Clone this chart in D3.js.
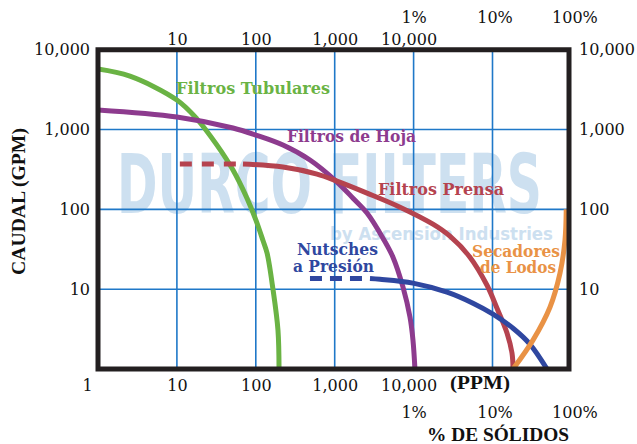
<!DOCTYPE html>
<html><head><meta charset="utf-8">
<script src="https://cdn.jsdelivr.net/npm/d3@7"></script>
<style>body{margin:0;background:#fff}svg{display:block}</style>
</head><body><svg id="c" width="637" height="444"></svg>
<script>
// ---- data ----
const ppmTicks = [1, 10, 100, 1000, 10000];
const ppmLabels = ["1", "10", "100", "1,000", "10,000"];
const ppmTopTicks = [10, 100, 1000, 10000];
const ppmTopLabels = ["10", "100", "1,000", "10,000"];
const pctTicks = [10000, 100000, 1000000];
const pctLabels = ["1%", "10%", "100%"];
const gpmTicks = [10, 100, 1000, 10000];
const gpmLabels = ["10", "100", "1,000", "10,000"];
const gridX = [10, 100, 1000, 10000, 100000];
const gridY = [10, 100, 1000];

const tubulares = [[1,5740],[2.54,4660],[10,2345],[18,1354],[32.2,638],[51.4,311],[77.3,138],[100.6,73],[123,41],[139,28.3],[165,10],[191,3.06],[197,1]];
const hoja = [[1,1760],[10,1436],[51.4,1045],[100,853],[221,639],[486,415],[1070,220],[1706,138],[2567,90],[4090,43.6],[5480,25.2],[7340,10.6],[9000,4.46],[9820,2.3],[10400,1]];
const prensaDash = [[10.9,370],[68.8,370]];
const prensa = [[68.8,370],[221,339],[597,277],[1070,226],[2567,160],[6730,106.6],[17600,65.3],[28900,46.2],[51800,25.2],[85200,11.2],[114000,5.78],[153000,2.81],[176700,1.58],[182000,1]];
const nutschesDash = [[486,13.6],[2800,13.6]];
const nutsches = [[2800,13.6],[3750,13.3],[9820,11.9],[26500,9.17],[56600,6.67],[101500,4.86],[182000,3.24],[299000,2.04],[491000,1]];
const secadores = [[182000,1],[326000,2.3],[535000,5.94],[717000,15.9],[829000,41],[860000,100]];

// ---- styles ----
const C = {green:"#6ab344", purple:"#8d3b8e", red:"#b5434f", blue:"#2f47a0", orange:"#e99245", grid:"#1f78c8", frame:"#231f20", wm:"#cde0f0"};
const numFont = "'DejaVu Serif', serif";
const lblFont = "'DejaVu Serif', serif";
const titleFont = "'Liberation Serif', 'DejaVu Serif', serif";

const svg = d3.select("#c");
const x = d3.scaleLog().domain([1, 1e6]).range([98, 571.4]);
const y = d3.scaleLog().domain([1, 1e4]).range([369, 49.75]);
const [x0, x1] = [x(1), 569];
const [y0, y1] = [y(1e4), y(1)];

// watermark
svg.append("text").attr("x", 117).attr("y", 213)
  .attr("font-family", "'DejaVu Sans Condensed','DejaVu Sans',sans-serif").attr("font-weight", "bold")
  .attr("font-size", 82).attr("fill", C.wm).attr("textLength", 425).attr("lengthAdjust", "spacingAndGlyphs")
  .text("DURCO FILTERS");
svg.append("text").attr("x", 330).attr("y", 240)
  .attr("font-family", "'DejaVu Sans',sans-serif").attr("font-weight", "bold")
  .attr("font-size", 18).attr("fill", C.wm).attr("textLength", 223).attr("lengthAdjust", "spacingAndGlyphs")
  .text("by Ascension Industries");

// grid
svg.append("g").selectAll("line").data(gridX).join("line")
  .attr("x1", d => x(d)).attr("x2", d => x(d)).attr("y1", y0).attr("y2", y1)
  .attr("stroke", C.grid).attr("stroke-width", 1.6);
svg.append("g").selectAll("line").data(gridY).join("line")
  .attr("y1", d => y(d)).attr("y2", d => y(d)).attr("x1", x0).attr("x2", x1)
  .attr("stroke", C.grid).attr("stroke-width", 1.6);

// curves
svg.append("clipPath").attr("id", "clip").append("rect")
  .attr("x", x0).attr("y", y0).attr("width", x1 - x0).attr("height", y1 - y0);
const line = d3.line().x(d => x(d[0])).y(d => y(d[1])).curve(d3.curveCatmullRom.alpha(0.5));
const g = svg.append("g").attr("clip-path", "url(#clip)");
function curve(data, color, dash) {
  g.append("path").attr("d", line(data)).attr("fill", "none").attr("stroke", color)
    .attr("stroke-width", 5).attr("stroke-dasharray", dash || null);
}
curve(tubulares, C.green);
curve(hoja, C.purple);
curve(prensaDash, C.red, "12,10");
curve(prensa, C.red);
curve(nutschesDash, C.blue, "12,8");
curve(nutsches, C.blue);
curve(secadores, C.orange);

// frame
svg.append("rect").attr("x", x0).attr("y", y0).attr("width", x1 - x0).attr("height", y1 - y0)
  .attr("fill", "none").attr("stroke", C.frame).attr("stroke-width", 5);

// axes
function styleAxis(sel) {
  sel.select(".domain").remove();
  sel.selectAll("text").attr("font-family", numFont).attr("font-size", 16).attr("fill", "#111");
}
const fmt = (ticks, labels) => d => labels[ticks.indexOf(d)];

svg.append("g").attr("transform", `translate(0,${y(1)})`)
  .call(d3.axisBottom(x).tickValues(ppmTicks).tickFormat(fmt(ppmTicks, ppmLabels)).tickSize(0).tickPadding(10.6))
  .call(styleAxis)
  .selectAll("text").attr("dx", d => d === 1 ? -11 : d === 10000 ? -5 : 0);
svg.append("g").attr("transform", `translate(0,${y(1e4)})`)
  .call(d3.axisTop(x).tickValues(ppmTopTicks).tickFormat(fmt(ppmTopTicks, ppmTopLabels)).tickSize(0).tickPadding(5))
  .call(styleAxis)
  .selectAll("text").attr("dx", d => d === 10000 ? -5 : 0);
svg.append("g").attr("transform", `translate(0,${y(1e4)})`)
  .call(d3.axisTop(x).tickValues(pctTicks).tickFormat(fmt(pctTicks, pctLabels)).tickSize(0).tickPadding(27))
  .call(styleAxis)
  .selectAll("text").attr("dx", d => d === 1e6 ? 3 : d === 1e5 ? 2 : 0);
svg.append("g").attr("transform", `translate(0,${y(1)})`)
  .call(d3.axisBottom(x).tickValues(pctTicks).tickFormat(fmt(pctTicks, pctLabels)).tickSize(0).tickPadding(37.6))
  .call(styleAxis)
  .selectAll("text").attr("dx", d => d === 1e6 ? 3 : d === 1e5 ? 2 : 0);
svg.append("g").attr("transform", `translate(${x(1)},0)`)
  .call(d3.axisLeft(y).tickValues(gpmTicks).tickFormat(fmt(gpmTicks, gpmLabels)).tickSize(0).tickPadding(8))
  .call(styleAxis);
svg.append("g").attr("transform", `translate(${x(1e6)},0)`)
  .call(d3.axisRight(y).tickValues(gpmTicks).tickFormat(fmt(gpmTicks, gpmLabels)).tickSize(0).tickPadding(7.6))
  .call(styleAxis);

// titles
function title(t, xx, yy, len, rot) {
  const el = svg.append("text").attr("font-family", titleFont).attr("font-weight", "bold")
    .attr("font-size", 18).attr("fill", "#111").attr("textLength", len).attr("lengthAdjust", "spacingAndGlyphs");
  if (rot) el.attr("transform", `translate(${xx},${yy}) rotate(-90)`).attr("text-anchor", "middle");
  else el.attr("x", xx).attr("y", yy);
  el.text(t);
}
title("CAUDAL (GPM)", 24.5, 201.5, 147, true);
title("(PPM)", 450, 389, 60);
title("% DE SÓLIDOS", 427, 441, 142);

// series labels
function label(t, xx, yy, len, color, anchor) {
  svg.append("text").attr("x", xx).attr("y", yy).attr("font-family", lblFont).attr("font-weight", "bold")
    .attr("font-size", 16).attr("fill", color).attr("text-anchor", anchor || "start")
    .attr("textLength", len).attr("lengthAdjust", "spacingAndGlyphs").text(t);
}
label("Filtros Tubulares", 176, 94, 154, C.green);
label("Filtros de Hoja", 287, 142, 129, C.purple);
label("Filtros Prensa", 378, 195, 126, C.red);
label("Nutsches", 297, 255, 81, C.blue);
label("a Presión", 293, 272, 81, C.blue);
label("Secadores", 472, 257, 88, C.orange);
label("de Lodos", 480, 273, 76, C.orange);
</script></body></html>
